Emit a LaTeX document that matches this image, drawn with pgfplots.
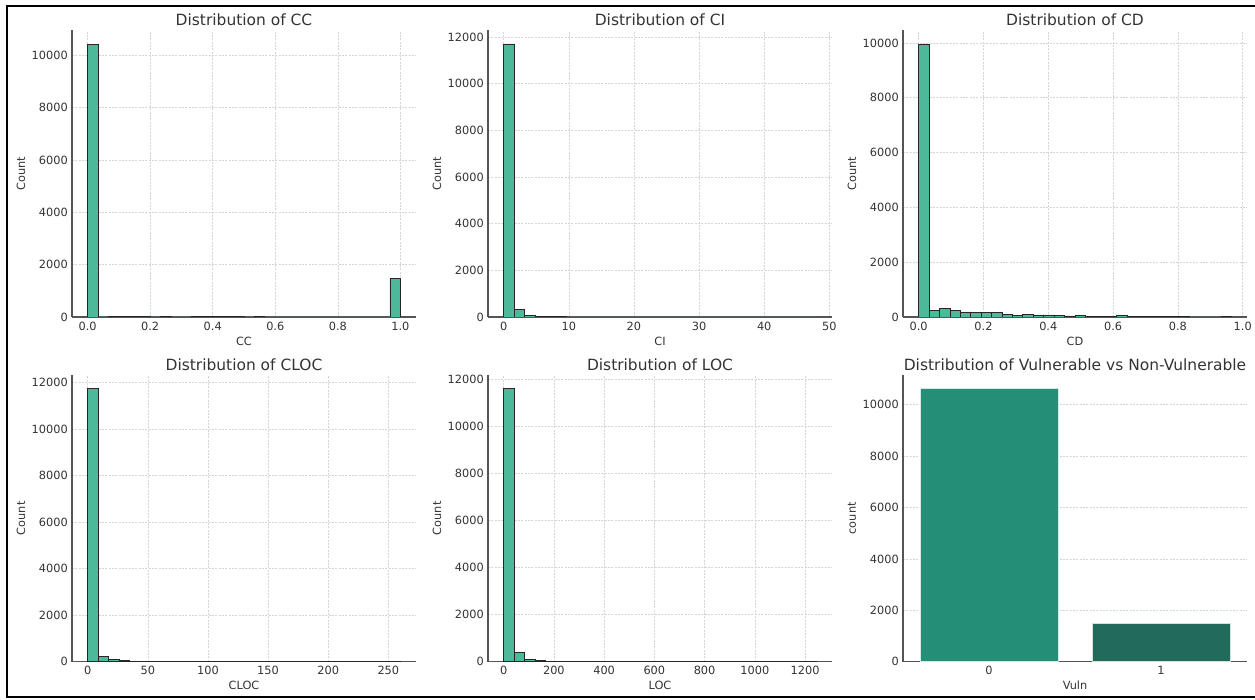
\documentclass[border=0pt]{standalone}
\usepackage{pgfplots}
\pgfplotsset{compat=1.18}
\usepackage{fontspec}
\setmainfont{DejaVu Sans}
\definecolor{histfill}{HTML}{4CB99A}
\definecolor{barA}{HTML}{248F76}
\definecolor{barB}{HTML}{226A5A}
\definecolor{txt}{HTML}{333333}
\definecolor{spine}{HTML}{555555}
\definecolor{gridc}{HTML}{D5D5D5}
\pgfplotsset{
  every axis title/.style={at={(axis description cs:0.5,1)}, anchor=base, yshift=3.6pt,
    font=\fontsize{11.6}{13}\selectfont, text=txt},
  distplot/.style={
    scale only axis, width=258pt, height=215pt,
    axis x line=bottom, axis y line=left,
    axis line style={-, draw=spine, line width=0.8pt},
    major tick length=0pt,
    ymin=0,
    scaled ticks=false,
    /pgf/number format/.cd, 1000 sep={}, assume math mode=true, /pgfplots/.cd,
    tick label style={font=\fontsize{8.5}{10}\selectfont, text=txt},
    yticklabel style={anchor=east, inner sep=0pt, xshift=-3pt},
    xticklabel style={anchor=base, inner sep=0pt, yshift=-9.9pt},
    label style={font=\fontsize{8.5}{10}\selectfont, text=txt},
    xlabel style={at={(axis description cs:0.5,0)}, anchor=base, yshift=-21.1pt},
    ylabel style={at={(axis description cs:-0.1483,0.5)}, anchor=center},
    grid style={gridc, dash pattern=on 1.5pt off 1pt, line width=0.4pt},
  },
  hist/.style={ybar interval, fill=histfill, draw=black!85, line width=0.6pt},
}
\begin{document}
\begin{tikzpicture}
\useasboundingbox (0pt,0pt) rectangle (941.25pt,524.25pt);
\draw[line width=1.5pt] (945pt,519.75pt) -- (5.25pt,519.75pt) -- (5.25pt,1.5pt) -- (945pt,1.5pt);

% CC
\begin{axis}[distplot, at={(54pt,286.5pt)}, anchor=south west,
  xmin=-0.05, xmax=1.05, ymax=10960,
  xtick={0,0.2,0.4,0.6,0.8,1.0}, xticklabels={0.0,0.2,0.4,0.6,0.8,1.0},
  ytick={0,2000,4000,6000,8000,10000},
  xmajorgrids, ymajorgrids,
  title={Distribution of CC}, xlabel={CC}, ylabel={Count}]
\addplot[hist] coordinates {
(0,10430) (0.03333,0) (0.06667,10) (0.1,8) (0.13333,6) (0.16667,5)
(0.2,0) (0.23333,30) (0.26667,0) (0.3,0) (0.33333,15) (0.36667,20)
(0.4,25) (0.43333,15) (0.46667,18) (0.5,0) (0.53333,28) (0.56667,0)
(0.6,0) (0.63333,0) (0.66667,0) (0.7,0) (0.73333,0) (0.76667,0)
(0.8,0) (0.83333,0) (0.86667,0) (0.9,0) (0.93333,0) (0.96667,1490) (1.0,1490)};
\end{axis}

% CI
\begin{axis}[distplot, at={(366pt,286.5pt)}, anchor=south west,
  xmin=-2.4, xmax=50.4, ymax=12285,
  xtick={0,10,20,30,40,50},
  ytick={0,2000,4000,6000,8000,10000,12000},
  xmajorgrids, ymajorgrids,
  title={Distribution of CI}, xlabel={CI}, ylabel={Count}]
\addplot[hist] coordinates {
(0,11700) (1.6,330) (3.2,60) (4.8,25) (6.4,10) (8,6) (9.6,4) (11.2,3)
(12.8,2) (14.4,2) (16,1) (17.6,1) (19.2,1) (20.8,0) (22.4,1) (24,0)
(25.6,1) (27.2,0) (28.8,0) (30.4,1) (32,0) (33.6,0) (35.2,0) (36.8,0)
(38.4,1) (40,0) (41.6,0) (43.2,0) (44.8,0) (46.4,1) (48,1)};
\end{axis}

% CD
\begin{axis}[distplot, at={(677.25pt,286.5pt)}, anchor=south west,
  xmin=-0.04825, xmax=1.01325, ymax=10458,
  xtick={0,0.2,0.4,0.6,0.8,1.0}, xticklabels={0.0,0.2,0.4,0.6,0.8,1.0},
  ytick={0,2000,4000,6000,8000,10000},
  xmajorgrids, ymajorgrids,
  title={Distribution of CD}, xlabel={CD}, ylabel={Count}]
\addplot[hist] coordinates {
(0,9950) (0.03217,232) (0.06433,317) (0.0965,244) (0.12867,183) (0.16083,171)
(0.193,171) (0.22517,171) (0.25733,98) (0.2895,61) (0.32167,98) (0.35383,73)
(0.386,73) (0.41817,49) (0.45033,37) (0.4825,49) (0.51467,24) (0.54683,24)
(0.579,12) (0.61117,49) (0.64333,24) (0.6755,24) (0.70767,24) (0.73983,8)
(0.772,5) (0.80417,5) (0.83633,3) (0.8685,3) (0.90067,2) (0.93283,5) (0.965,5)};
\end{axis}

% CLOC
\begin{axis}[distplot, at={(54pt,27.975pt)}, anchor=south west,
  xmin=-13, xmax=273, ymax=12332,
  xtick={0,50,100,150,200,250},
  ytick={0,2000,4000,6000,8000,10000,12000},
  xmajorgrids, ymajorgrids,
  title={Distribution of CLOC}, xlabel={CLOC}, ylabel={Count}]
\addplot[hist] coordinates {
(0,11745) (8.667,244) (17.333,95) (26,40) (34.667,20) (43.333,15)
(52,8) (60.667,15) (69.333,12) (78,5) (86.667,4) (95.333,3)
(104,3) (112.667,2) (121.333,2) (130,1) (138.667,2) (147.333,1)
(156,1) (164.667,1) (173.333,0) (182,1) (190.667,0) (199.333,1)
(208,0) (216.667,0) (225.333,1) (234,0) (242.667,0) (251.333,1) (260,1)};
\end{axis}

% LOC
\begin{axis}[distplot, at={(366pt,27.975pt)}, anchor=south west,
  xmin=-62.25, xmax=1307.25, ymax=12184,
  xtick={0,200,400,600,800,1000,1200},
  ytick={0,2000,4000,6000,8000,10000,12000},
  xmajorgrids, ymajorgrids,
  title={Distribution of LOC}, xlabel={LOC}, ylabel={Count}]
\addplot[hist] coordinates {
(0,11600) (41.5,383) (83,99) (124.5,43) (166,20) (207.5,15)
(249,10) (290.5,5) (332,4) (373.5,3) (415,2) (456.5,2)
(498,1) (539.5,1) (581,1) (622.5,0) (664,1) (705.5,0)
(747,0) (788.5,1) (830,0) (871.5,0) (913,0) (954.5,1)
(996,0) (1037.5,0) (1079,0) (1120.5,0) (1162,0) (1203.5,1) (1245,1)};
\end{axis}

% Vuln
\begin{axis}[distplot, at={(677.25pt,27.975pt)}, anchor=south west,
  xmin=-0.5, xmax=1.5, ymax=11156,
  xtick={0,1},
  ytick={0,2000,4000,6000,8000,10000},
  ymajorgrids,
  title={Distribution of Vulnerable vs Non-Vulnerable}, xlabel={Vuln}, ylabel={count}]
\addplot[ybar, bar width=0.8, bar shift=0pt, fill=barA, draw=white!80!barA, line width=0.4pt] coordinates {(0,10625)};
\addplot[ybar, bar width=0.8, bar shift=0pt, fill=barB, draw=white!80!barB, line width=0.4pt] coordinates {(1,1500)};
\end{axis}
\end{tikzpicture}
\end{document}
